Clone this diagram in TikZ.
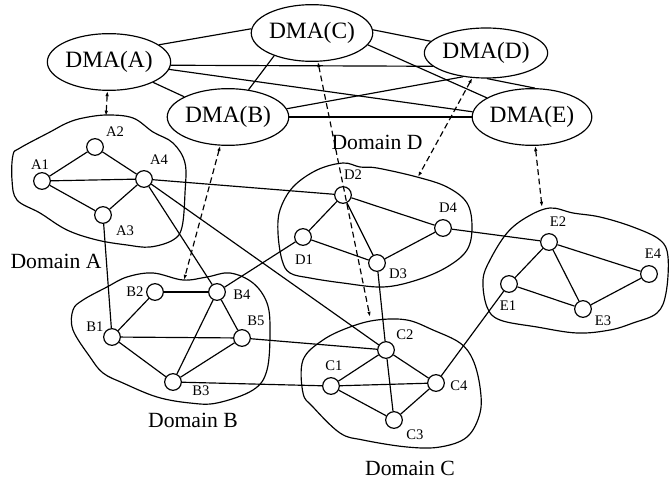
\documentclass[tikz,border=0pt]{standalone}
\usepackage{fontspec}
\setmainfont{Liberation Serif}
\usepackage{tikz}
\usetikzlibrary{shapes.geometric, arrows.meta}

\begin{document}
\begin{tikzpicture}[line width=1pt, x=0.03cm, y=-0.03cm, >={Latex[length=4.5pt, width=3pt]}]
  \tikzset{dma/.style={draw, ellipse, minimum width=3cm, minimum height=1.7cm, inner sep=0pt, font=\fontsize{20}{24}\selectfont}}
  \tikzset{host/.style={draw, circle, minimum size=0.5cm, inner sep=0pt}}
  \tikzset{tag/.style={inner sep=0pt, font=\fontsize{12.5}{15}\selectfont}}
  \tikzset{domtag/.style={inner sep=0pt, font=\fontsize{18.5}{22}\selectfont}}
  \tikzset{link/.style={dash pattern=on 5pt off 3pt, <->}}

  \useasboundingbox (0,0) rectangle (670,480);

  % Managers
  \node [dma] (dmaA) at (109, 62) {DMA(A)};
  \node [dma] (dmaB) at (228, 117) {DMA(B)};
  \node [dma] (dmaC) at (312, 33) {DMA(C)};
  \node [dma, minimum height=1.5cm] (dmaD) at (486, 53) {DMA(D)};
  \node [dma] (dmaE) at (532, 117) {DMA(E)};

  % Domains
  \draw plot [smooth cycle, tension=0.6] coordinates {
    (13,155) (20,148) (50,132) (67,123) (83,118) (107,115) (133,118) (153,132)
    (173,143) (185,163) (185,193) (182,227) (173,240) (150,247) (127,245)
    (97,240) (67,230) (40,213) (17,200) (12,180)};
  \draw plot [smooth cycle, tension=0.6] coordinates {
    (73,310) (83,300) (107,287) (127,277) (153,273) (183,280) (207,277)
    (230,273) (253,283) (267,303) (270,330) (267,370) (253,390) (217,403)
    (190,403) (157,397) (123,383) (103,373) (90,357) (73,330)};
  \draw plot [smooth cycle, tension=0.6] coordinates {
    (303,360) (323,340) (350,327) (377,320) (407,320) (433,330) (460,343)
    (473,360) (480,387) (480,413) (467,437) (440,447) (407,447) (363,440)
    (340,433) (313,407) (303,393)};
  \draw plot [smooth cycle, tension=0.6] coordinates {
    (280,210) (293,187) (317,170) (343,163) (360,167) (377,168) (417,177)
    (447,187) (467,203) (472,227) (467,250) (447,267) (417,280) (383,287)
    (343,283) (310,278) (290,273) (282,260) (278,233)};
  \draw plot [smooth cycle, tension=0.6] coordinates {
    (490,260) (507,233) (527,217) (550,208) (573,213) (600,217) (633,227)
    (660,240) (668,257) (666,293) (657,313) (633,323) (610,330) (577,333)
    (537,327) (500,320) (487,307) (483,280)};

  \coordinate (topA) at (106, 116);
  \coordinate (topB) at (184, 280);
  \coordinate (topC) at (370, 317);
  \coordinate (topD) at (418, 177);
  \coordinate (topE) at (542, 207);

  % Hosts
  \foreach \n/\x/\y in {A1/42/181, A2/95/147, A3/103/215, A4/144/179,
                        B1/112/337, B2/155/292, B3/173/382, B4/217/292, B5/242/338,
                        C1/331/386, C2/386/350, C3/394/420, C4/436/383,
                        D1/303/237, D2/343/195, D3/377/263, D4/443/228,
                        E1/509/284, E2/549/242, E3/583/309, E4/649/274} {
    \node [host] (\n) at (\x, \y) {};
  }

  \foreach \n/\x/\y in {A1/40/165, A2/115/132, A3/125/231, A4/159/160,
                        B1/95/327, B2/135/292, B3/201/391, B4/242/295, B5/256/321,
                        C1/334/366, C2/405/335, C3/415/435, C4/459/386,
                        D1/304/260, D2/353/175, D3/398/274, D4/448/208,
                        E1/508/306, E2/558/222, E3/603/321, E4/653/254} {
    \node [tag] (l\n) at (\x, \y) {\n};
  }

  \node [domtag] (nameA) at (56, 261) {Domain A};
  \node [domtag] (nameB) at (193, 420) {Domain B};
  \node [domtag] (nameC) at (410, 468) {Domain C};
  \node [domtag] (nameD) at (377, 142) {Domain D};

  % Edges between managers
  \draw (dmaA.19) -- (dmaC.176);
  \draw (dmaA.-3) -- (dmaD.194);
  \draw (dmaA.-7) -- (dmaE.175);
  \draw (dmaA) -- (dmaB);
  \draw (dmaB.53) -- (dmaC.211);
  \draw (dmaB.8) -- (dmaD.226);
  \draw (dmaB) -- (dmaE);
  \draw (dmaC.3) -- (dmaD.168);
  \draw (dmaC.-12) -- (dmaE.157);
  \draw (dmaD.-88) -- (dmaE.84);

  % Manager to domain
  \draw [link] (dmaA) -- (topA);
  \draw [link] (dmaB) -- (topB);
  \draw [link] (dmaC) -- (topC);
  \draw [link] (dmaD) -- (topD);
  \draw [link] (dmaE) -- (topE);

  % Edges inside domains
  \draw (A1) -- (A2);
  \draw (A1) -- (A4);
  \draw (A1) -- (A3);
  \draw (A2) -- (A4);
  \draw (A3) -- (A4);

  \draw (B1) -- (B2);
  \draw (B2) -- (B4);
  \draw (B1) -- (B5);
  \draw (B1) -- (B3);
  \draw (B4) -- (B3);
  \draw (B4) -- (B5);
  \draw (B5) -- (B3);

  \draw (C1) -- (C2);
  \draw (C1) -- (C4);
  \draw (C1) -- (C3);
  \draw (C2) -- (C4);
  \draw (C2) -- (C3);
  \draw (C3) -- (C4);

  \draw (D1) -- (D2);
  \draw (D2) -- (D3);
  \draw (D2) -- (D4);
  \draw (D1) -- (D3);
  \draw (D3) -- (D4);

  \draw (E1) -- (E2);
  \draw (E2) -- (E3);
  \draw (E2) -- (E4);
  \draw (E1) -- (E3);
  \draw (E3) -- (E4);

  % Edges between domains
  \draw (A4) -- (D2);
  \draw (A4) -- (B4);
  \draw (A4) -- (C2);
  \draw (A3) -- (B1);
  \draw (B4) -- (D1);
  \draw (B5) -- (C2);
  \draw (B3) -- (C1);
  \draw (D3) -- (C2);
  \draw (D4) -- (E2);
  \draw (C4) -- (E1);

\end{tikzpicture}
\end{document}
